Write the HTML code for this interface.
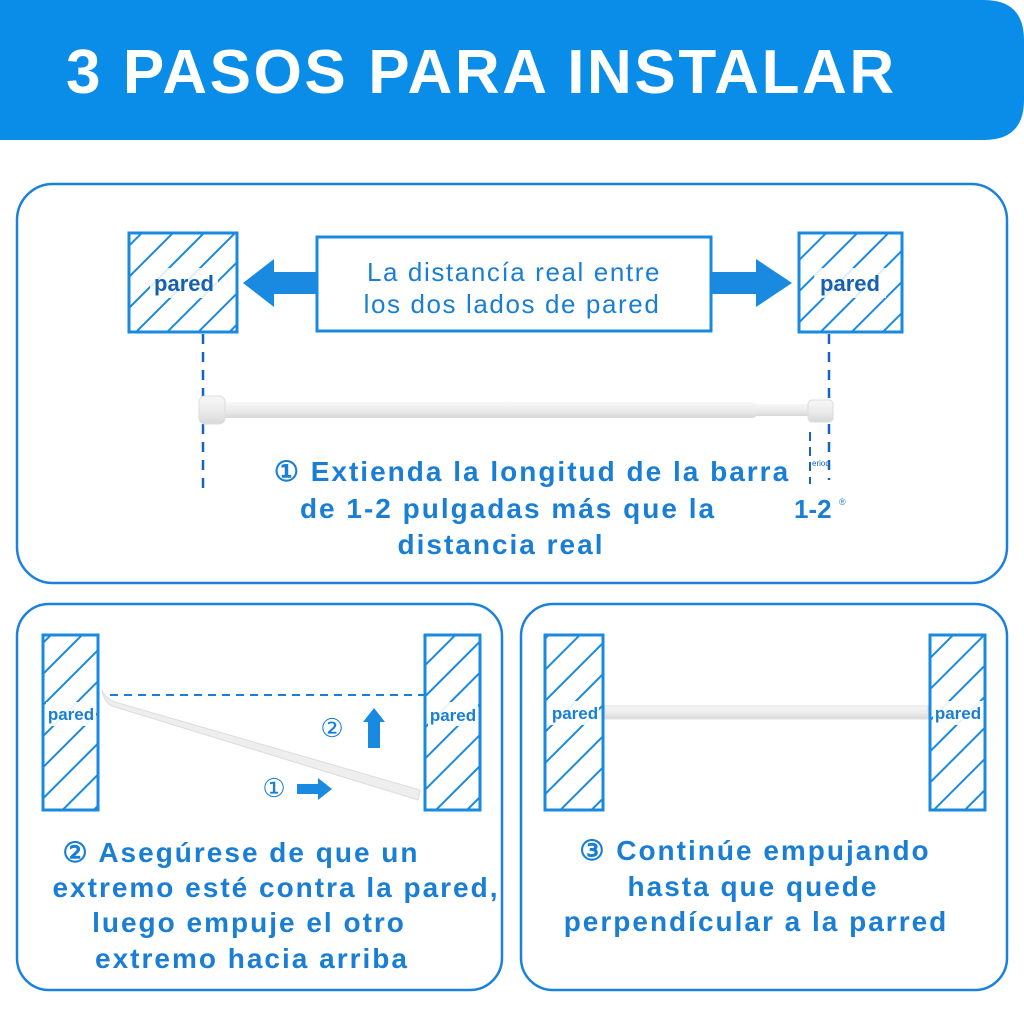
<!DOCTYPE html>
<html><head><meta charset="utf-8"><style>
body{margin:0;background:#fff;}
svg{display:block}
text{font-family:"Liberation Sans",sans-serif;}
.b{font-size:28px;font-weight:bold;fill:#1a7fd4;letter-spacing:2px;}
</style></head><body>
<svg width="1024" height="1024" viewBox="0 0 1024 1024" xmlns="http://www.w3.org/2000/svg">
<defs>
<pattern id="h" width="22" height="22" patternUnits="userSpaceOnUse" patternTransform="rotate(45)">
<rect width="22" height="22" fill="#fff"/>
<line x1="0" y1="0" x2="0" y2="22" stroke="#1a8ae0" stroke-width="4"/>
</pattern>
<linearGradient id="rod" x1="0" y1="0" x2="0" y2="1">
<stop offset="0" stop-color="#f7f7f7"/><stop offset="0.5" stop-color="#ececec"/><stop offset="1" stop-color="#d8d8d8"/>
</linearGradient>
</defs>
<path d="M0 0 H984 Q1024 0 1024 40 V100 Q1024 140 984 140 H0 Z" fill="#0a8de8"/>
<text x="66" y="93" font-size="62" font-weight="bold" fill="#fff" letter-spacing="2.6">3 PASOS PARA INSTALAR</text>

<rect x="17" y="184" width="990" height="399" rx="36" fill="none" stroke="#1a82dc" stroke-width="2.5"/>
<rect x="17" y="604" width="485" height="386" rx="32" fill="none" stroke="#1a82dc" stroke-width="2.5"/>
<rect x="521" y="604" width="486" height="386" rx="32" fill="none" stroke="#1a82dc" stroke-width="2.5"/>

<!-- top panel -->
<rect x="129" y="233" width="108" height="99" fill="url(#h)" stroke="#1a8ae0" stroke-width="3"/>
<rect x="150" y="268" width="68" height="30" fill="#fff" opacity="0.85"/>
<text x="184" y="291" font-size="22" font-weight="bold" fill="#1560b0" text-anchor="middle">pared</text>
<rect x="799" y="233" width="103" height="99" fill="url(#h)" stroke="#1a8ae0" stroke-width="3"/>
<rect x="814" y="268" width="72" height="30" fill="#fff" opacity="0.85"/>
<text x="850" y="291" font-size="22" font-weight="bold" fill="#1560b0" text-anchor="middle">pared</text>
<rect x="317" y="237" width="394" height="94" fill="#fff" stroke="#1a8ae0" stroke-width="3"/>
<text x="514" y="281" font-size="26" fill="#1a7fd4" text-anchor="middle" letter-spacing="1.6">La distancía real entre</text>
<text x="512" y="313" font-size="26" fill="#1a7fd4" text-anchor="middle" letter-spacing="1.6">los dos lados de pared</text>
<polygon points="316,272 274,272 274,259 243,283 274,307 274,294 316,294" fill="#1a8ae0"/>
<polygon points="712,272 756,272 756,259 792,283 756,307 756,294 712,294" fill="#1a8ae0"/>
<line x1="203" y1="334" x2="203" y2="490" stroke="#1565c0" stroke-width="2.5" stroke-dasharray="10,8"/>
<line x1="829" y1="334" x2="829" y2="480" stroke="#1565c0" stroke-width="2.5" stroke-dasharray="10,8"/>
<line x1="810" y1="432" x2="810" y2="484" stroke="#1565c0" stroke-width="2" stroke-dasharray="9,6"/>
<rect x="210" y="402" width="548" height="16" rx="6" fill="url(#rod)"/>
<rect x="756" y="404" width="56" height="12" fill="url(#rod)"/>
<rect x="199" y="396" width="26" height="28" rx="6" fill="url(#rod)" stroke="#ddd"/>
<rect x="808" y="400" width="25" height="22" rx="4" fill="url(#rod)" stroke="#ddd"/>
<text x="812" y="466" font-size="8" fill="#1565c0">eriod</text>
<text x="532" y="481" class="b" text-anchor="middle">① Extienda la longitud de la barra</text>
<text x="508" y="518" class="b" text-anchor="middle">de 1-2 pulgadas más que la</text>
<text x="501" y="554" class="b" text-anchor="middle">distancia real</text>
<text x="794" y="518" font-size="26" font-weight="bold" fill="#1a7fd4">1-2</text>
<text x="839" y="505" font-size="9" fill="#1a7fd4">®</text>

<!-- bottom left -->
<rect x="43" y="635" width="55" height="175" fill="url(#h)" stroke="#1a8ae0" stroke-width="3"/>
<rect x="46" y="702" width="50" height="24" fill="#fff" opacity="0.9"/>
<text x="71" y="720" font-size="17" font-weight="bold" fill="#1a7fd4" text-anchor="middle">pared</text>
<rect x="425" y="635" width="55" height="175" fill="url(#h)" stroke="#1a8ae0" stroke-width="3"/>
<rect x="428" y="702" width="50" height="24" fill="#fff" opacity="0.9"/>
<text x="453" y="721" font-size="17" font-weight="bold" fill="#1a7fd4" text-anchor="middle">pared</text>
<line x1="110" y1="695" x2="424" y2="695" stroke="#1a7fd4" stroke-width="2" stroke-dasharray="8,6"/>
<path d="M102 690 Q105 698 115 702 L420 790 L418 800 L112 706 Q104 702 102 690Z" fill="#eeeeee" stroke="#dcdcdc"/>
<text x="332" y="737" font-size="26" fill="#1a7fd4" text-anchor="middle">②</text>
<polygon points="368,748 368,722 363,722 374,708 385,722 380,722 380,748" fill="#1a8ae0"/>
<text x="274" y="797" font-size="26" fill="#1a7fd4" text-anchor="middle">①</text>
<polygon points="297,784 318,784 318,778 332,789 318,800 318,794 297,794" fill="#1a8ae0"/>
<text x="241" y="862" class="b" text-anchor="middle">② Asegúrese de que un</text>
<text x="276" y="897" class="b" text-anchor="middle">extremo esté contra la pared,</text>
<text x="249" y="932" class="b" text-anchor="middle">luego empuje el otro</text>
<text x="252" y="968" class="b" text-anchor="middle">extremo hacia arriba</text>

<!-- bottom right -->
<rect x="545" y="635" width="58" height="175" fill="url(#h)" stroke="#1a8ae0" stroke-width="3"/>
<rect x="549" y="701" width="50" height="24" fill="#fff" opacity="0.9"/>
<text x="575" y="719" font-size="17" font-weight="bold" fill="#1a7fd4" text-anchor="middle">pared</text>
<rect x="930" y="635" width="55" height="175" fill="url(#h)" stroke="#1a8ae0" stroke-width="3"/>
<rect x="933" y="701" width="50" height="24" fill="#fff" opacity="0.9"/>
<text x="958" y="719" font-size="17" font-weight="bold" fill="#1a7fd4" text-anchor="middle">pared</text>
<rect x="605" y="706" width="323" height="13" fill="url(#rod)" stroke="#e2e2e2"/>
<text x="755" y="860" class="b" text-anchor="middle">③ Continúe empujando</text>
<text x="753" y="896" class="b" text-anchor="middle">hasta que quede</text>
<text x="756" y="931" class="b" text-anchor="middle">perpendícular a la parred</text>
</svg>
</body></html>
